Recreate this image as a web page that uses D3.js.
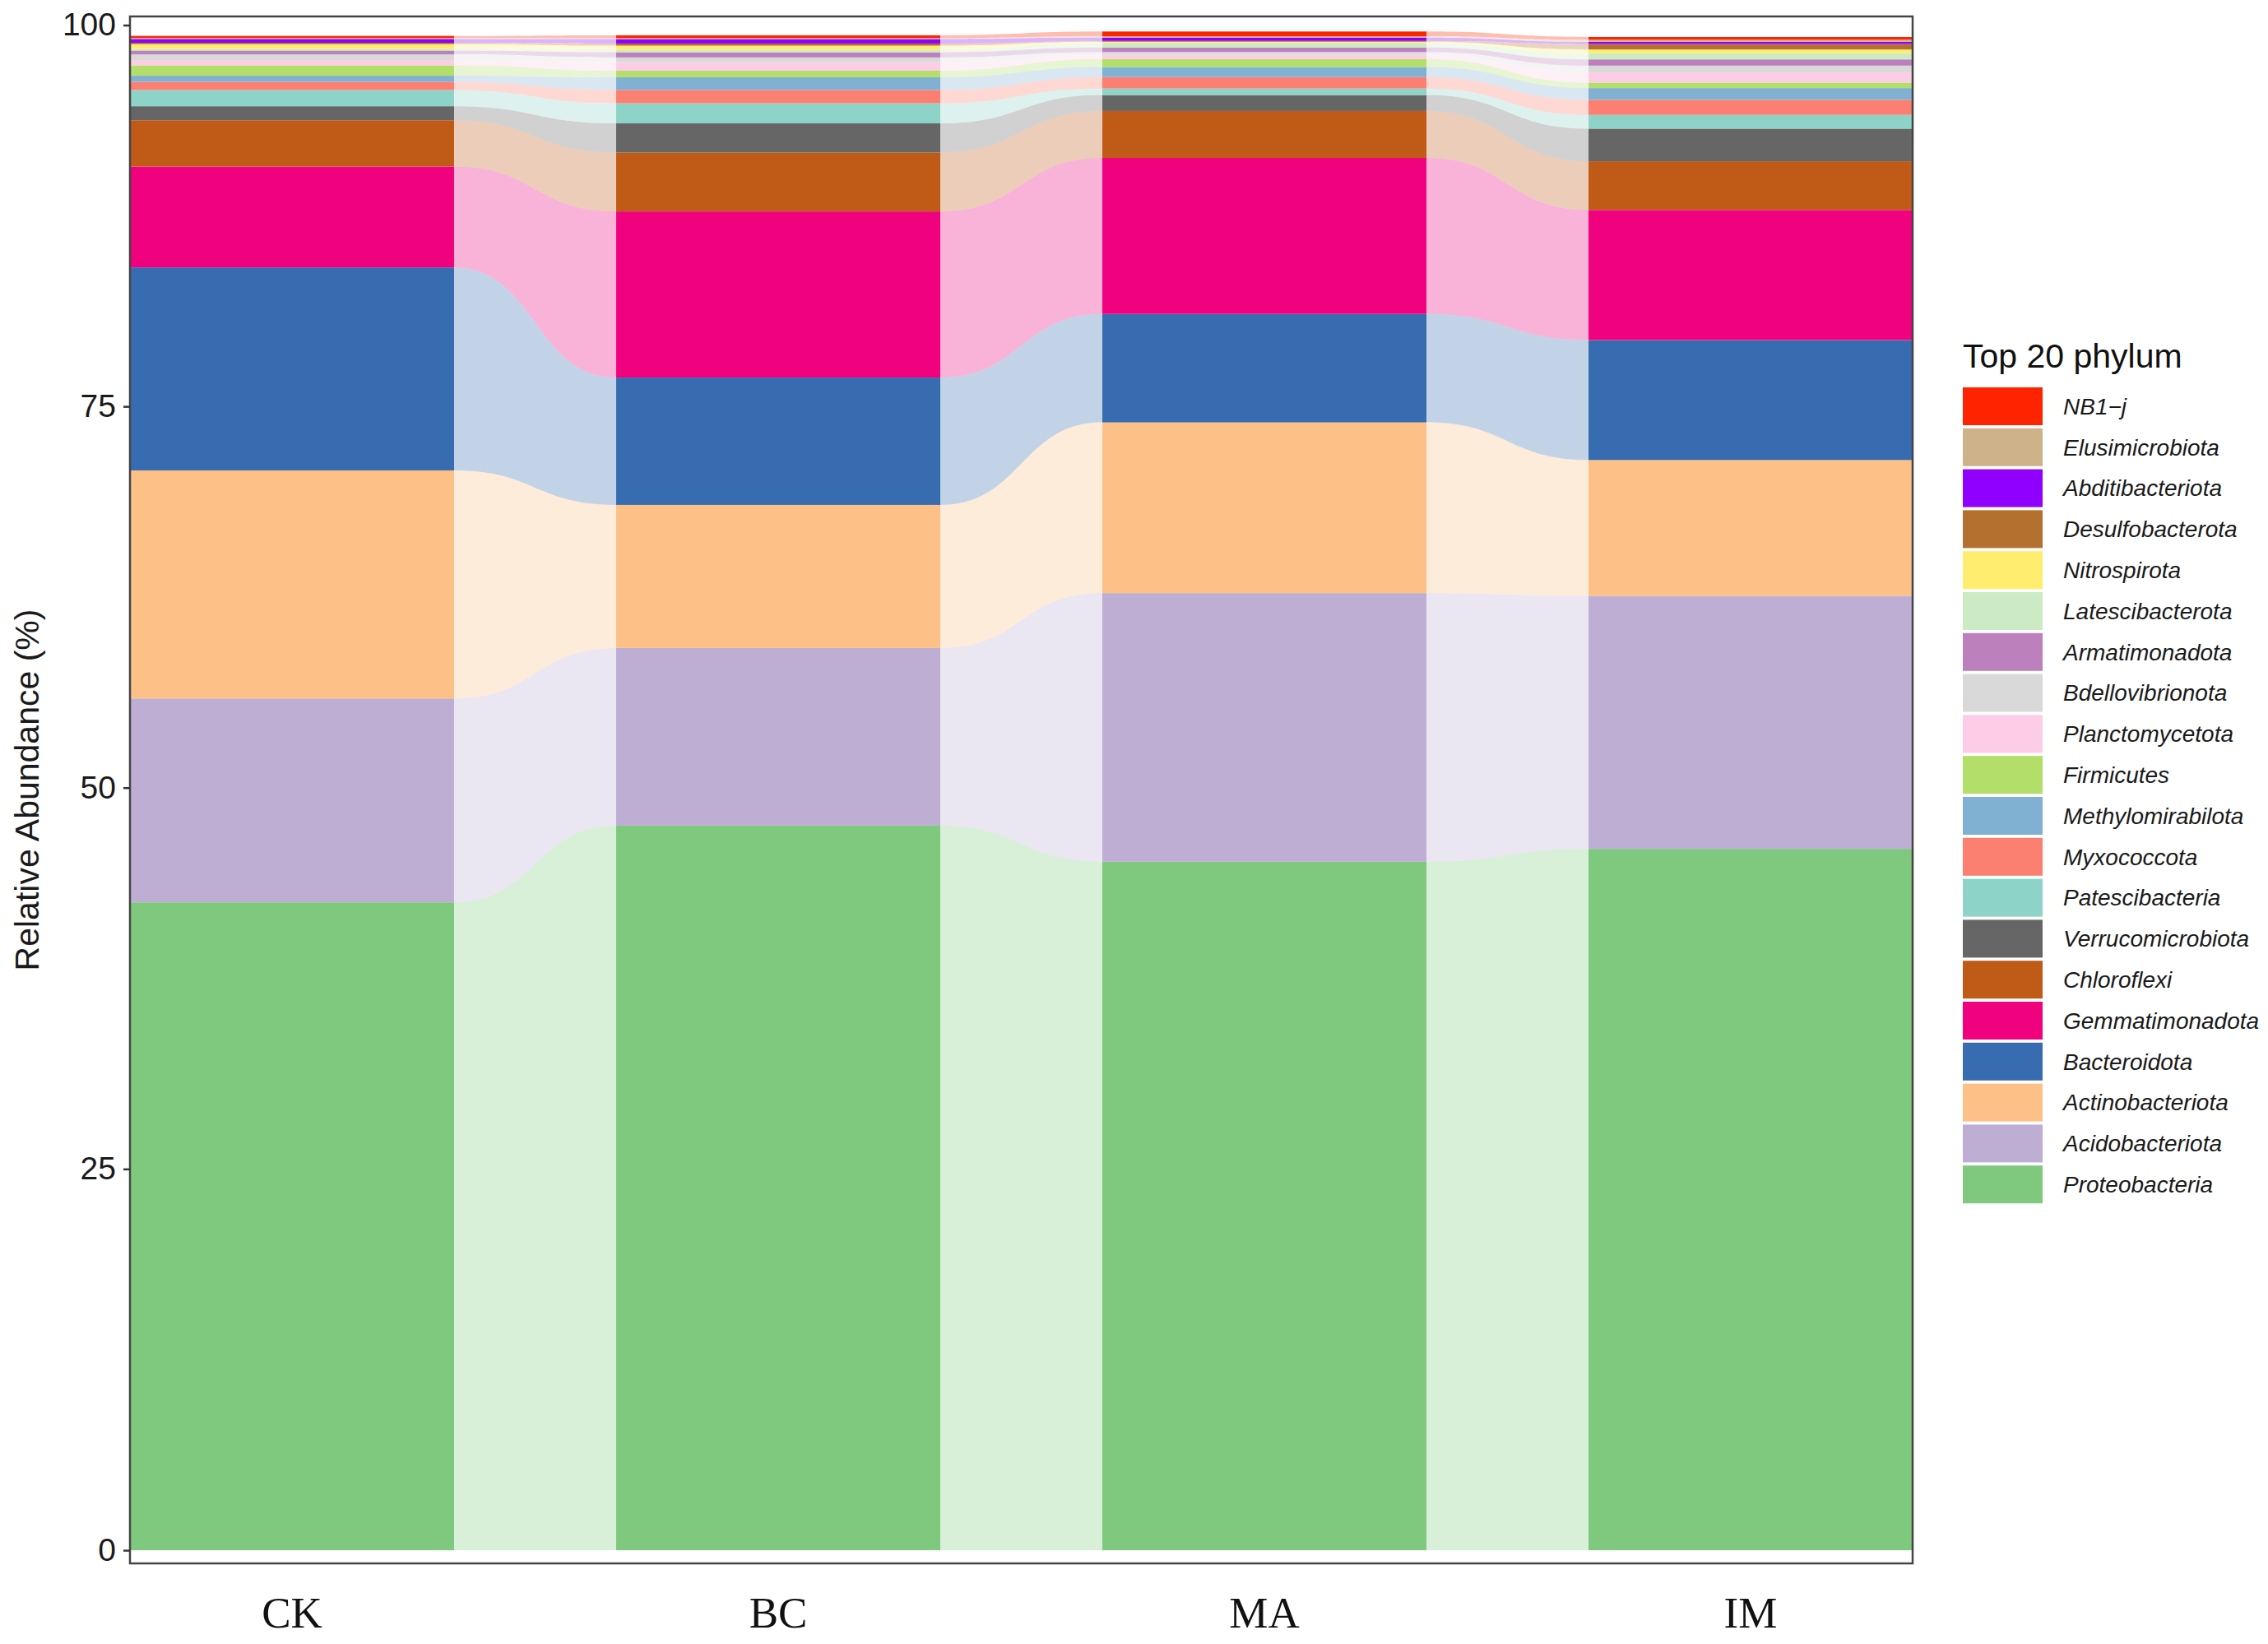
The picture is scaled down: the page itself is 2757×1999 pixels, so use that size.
<!DOCTYPE html>
<html>
<head>
<meta charset="utf-8">
<script src="https://cdn.jsdelivr.net/npm/d3@7"></script>
<style>
  body { margin: 0; background: #fff; }
  svg { display: block; }
</style>
</head>
<body>
<div id="chart"></div>
<script>
// groups along the x axis
var groups = ["CK", "BC", "MA", "IM"];

// phyla from the bottom of the stack to the top
var phyla = ["Proteobacteria", "Acidobacteriota", "Actinobacteriota", "Bacteroidota",
  "Gemmatimonadota", "Chloroflexi", "Verrucomicrobiota", "Patescibacteria",
  "Myxococcota", "Methylomirabilota", "Firmicutes", "Planctomycetota",
  "Bdellovibrionota", "Armatimonadota", "Latescibacterota", "Nitrospirota",
  "Desulfobacterota", "Abditibacteriota", "Elusimicrobiota", "NB1\u2212j"];

// relative abundance (%) per group, same order as phyla
var ckValues = [42.48, 13.37, 14.95, 13.31, 6.62, 3.03, 0.92, 1.06, 0.54, 0.40,
  0.68, 0.34, 0.38, 0.25, 0.11, 0.31, 0.09, 0.25, 0.07, 0.13];
var bcValues = [47.51, 11.65, 9.38, 8.35, 10.89, 3.86, 1.92, 1.31, 0.88, 0.83,
  0.43, 0.56, 0.31, 0.34, 0.16, 0.27, 0.14, 0.29, 0.07, 0.18];
var maValues = [45.14, 17.62, 11.19, 7.11, 10.23, 3.08, 1.04, 0.43, 0.75, 0.66,
  0.52, 0.29, 0.18, 0.29, 0.29, 0.09, 0.05, 0.22, 0.09, 0.31];
var imValues = [45.99, 16.59, 8.90, 7.87, 8.53, 3.19, 2.14, 0.90, 0.99, 0.77,
  0.36, 0.68, 0.43, 0.41, 0.40, 0.25, 0.36, 0.14, 0.14, 0.18];

var yTicks = [0, 25, 50, 75, 100];

var palette = ["#7FC97F", "#BEAED4", "#FDC086", "#386CB0", "#F0027F", "#BF5B17",
  "#666666", "#8DD3C7", "#FB8072", "#80B1D3", "#B3DE69", "#FCCDE5", "#D9D9D9",
  "#BC80BD", "#CCEBC5", "#FFED6F", "#B4702F", "#8F00FF", "#CDB28A", "#FF2400"];

var width = 2757, height = 1999;
var panel = {left: 158, right: 2325, top: 20, bottom: 1901};

var svg = d3.select("#chart").append("svg")
  .attr("width", width)
  .attr("height", height);

svg.append("rect").attr("width", width).attr("height", height).attr("fill", "#fff");

// build a table for d3.stack
var valuesByGroup = [ckValues, bcValues, maValues, imValues];
var table = groups.map(function (g, i) {
  var row = {group: g};
  phyla.forEach(function (p, k) { row[p] = valuesByGroup[i][k]; });
  return row;
});
var series = d3.stack().keys(phyla)(table);

var x = d3.scaleBand()
  .domain(groups)
  .range([panel.left, panel.right])
  .paddingInner(1 / 3)
  .paddingOuter(0);

var y = d3.scaleLinear()
  .domain([0, 100])
  .range([1885, 30.5]);

var color = d3.scaleOrdinal().domain(phyla).range(palette);

// flows between neighbouring bars
function flowPath(a, b, ga, gb) {
  var x0 = x(ga) + x.bandwidth(), x1 = x(gb), xm = (x0 + x1) / 2;
  var p = d3.path();
  p.moveTo(x0, y(a[1]));
  p.bezierCurveTo(xm, y(a[1]), xm, y(b[1]), x1, y(b[1]));
  p.lineTo(x1, y(b[0]));
  p.bezierCurveTo(xm, y(b[0]), xm, y(a[0]), x0, y(a[0]));
  p.closePath();
  return p.toString();
}

var flows = svg.append("g").attr("class", "flows");
series.forEach(function (s) {
  for (var i = 0; i < groups.length - 1; i++) {
    flows.append("path")
      .attr("d", flowPath(s[i], s[i + 1], groups[i], groups[i + 1]))
      .attr("fill", color(s.key))
      .attr("fill-opacity", 0.3);
  }
});

// stacked bars
var bars = svg.append("g").attr("class", "bars");
series.forEach(function (s) {
  bars.selectAll(null)
    .data(s)
    .enter().append("rect")
    .attr("x", function (d) { return x(d.data.group); })
    .attr("width", x.bandwidth())
    .attr("y", function (d) { return y(d[1]); })
    .attr("height", function (d) { return y(d[0]) - y(d[1]); })
    .attr("fill", color(s.key));
});

// panel border
svg.append("rect")
  .attr("x", panel.left).attr("y", panel.top)
  .attr("width", panel.right - panel.left)
  .attr("height", panel.bottom - panel.top)
  .attr("fill", "none")
  .attr("stroke", "#444")
  .attr("stroke-width", 2.5);

// y axis
var yAxis = svg.append("g")
  .attr("transform", "translate(" + panel.left + ",0)")
  .call(d3.axisLeft(y).tickValues(yTicks).tickSize(8).tickPadding(9));
yAxis.select(".domain").remove();
yAxis.selectAll(".tick line").attr("stroke", "#333").attr("stroke-width", 2.5);
yAxis.selectAll(".tick text")
  .attr("fill", "#1a1a1a")
  .style("font-family", "'Liberation Sans', Arial, sans-serif")
  .style("font-size", "39px");

svg.append("text")
  .attr("transform", "translate(47," + ((panel.top + panel.bottom) / 2) + ") rotate(-90)")
  .attr("text-anchor", "middle")
  .attr("fill", "#1a1a1a")
  .style("font-family", "'Liberation Sans', Arial, sans-serif")
  .style("font-size", "41px")
  .text("Relative Abundance (%)");

// x axis, labels only
var xAxis = svg.append("g")
  .attr("transform", "translate(0," + panel.bottom + ")")
  .call(d3.axisBottom(x).tickSize(0).tickPadding(40));
xAxis.select(".domain").remove();
xAxis.selectAll(".tick text")
  .attr("fill", "#111")
  .style("font-family", "'Liberation Serif', 'Times New Roman', serif")
  .style("font-size", "53px");

// legend, top of the stack first
var legend = svg.append("g").attr("transform", "translate(2386,0)");
legend.append("text")
  .attr("x", 0).attr("y", 447)
  .attr("fill", "#111")
  .style("font-family", "'Liberation Sans', Arial, sans-serif")
  .style("font-size", "41px")
  .text("Top 20 phylum");

var legendOrder = phyla.slice().reverse();
var item = legend.selectAll(".item")
  .data(legendOrder)
  .enter().append("g")
  .attr("class", "item")
  .attr("transform", function (d, i) { return "translate(0," + (471 + i * 49.8) + ")"; });

item.append("rect")
  .attr("width", 97).attr("height", 46)
  .attr("fill", function (d) { return color(d); });

item.append("text")
  .attr("x", 122).attr("y", 23).attr("dy", "0.35em")
  .attr("fill", "#1a1a1a")
  .style("font-family", "'Liberation Sans', Arial, sans-serif")
  .style("font-style", "italic")
  .style("font-size", "28px")
  .text(function (d) { return d; });
</script>
</body>
</html>
